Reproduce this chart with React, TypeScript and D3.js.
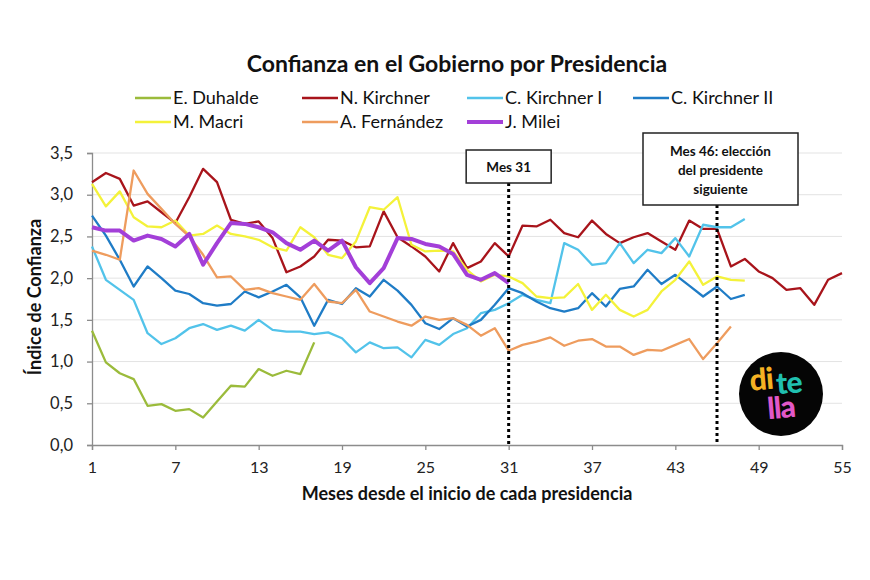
import React, { useRef, useEffect } from 'react';
import * as d3 from 'd3';

// Índice de confianza mensual por presidencia
const duhalde = [1.37, 0.99, 0.86, 0.79, 0.47, 0.49, 0.41, 0.43, 0.33, 0.52, 0.71, 0.70, 0.91, 0.83, 0.89, 0.85, 1.23];
const nKirchner = [3.15, 3.26, 3.19, 2.87, 2.92, 2.79, 2.66, 2.97, 3.31, 3.15, 2.70, 2.65, 2.68, 2.48, 2.07, 2.14, 2.26, 2.46, 2.45, 2.37,
  2.38, 2.80, 2.49, 2.38, 2.26, 2.08, 2.42, 2.12, 2.20, 2.42, 2.26, 2.63, 2.62, 2.70, 2.54, 2.49, 2.69, 2.53, 2.42, 2.49,
  2.54, 2.44, 2.34, 2.69, 2.59, 2.59, 2.14, 2.23, 2.08, 2.00, 1.86, 1.88, 1.68, 1.98, 2.06];
const cKirchnerI = [2.38, 1.98, 1.86, 1.74, 1.34, 1.21, 1.28, 1.40, 1.45, 1.38, 1.43, 1.37, 1.50, 1.38, 1.36, 1.36, 1.33, 1.35, 1.28, 1.11,
  1.23, 1.16, 1.17, 1.05, 1.26, 1.20, 1.33, 1.40, 1.58, 1.62, 1.70, 1.80, 1.74, 1.70, 2.42, 2.34, 2.16, 2.18, 2.42, 2.18,
  2.34, 2.30, 2.48, 2.26, 2.64, 2.61, 2.61, 2.71];
const cKirchnerII = [2.75, 2.51, 2.22, 1.90, 2.14, 2.00, 1.85, 1.81, 1.70, 1.67, 1.69, 1.84, 1.77, 1.84, 1.92, 1.77, 1.43, 1.74, 1.69, 1.88,
  1.78, 1.98, 1.85, 1.68, 1.46, 1.39, 1.52, 1.42, 1.50, 1.68, 1.88, 1.82, 1.72, 1.64, 1.60, 1.64, 1.82, 1.66, 1.87, 1.90,
  2.10, 1.93, 2.04, 1.91, 1.78, 1.90, 1.75, 1.80];
const macri = [3.13, 2.86, 3.04, 2.73, 2.62, 2.61, 2.69, 2.51, 2.53, 2.63, 2.53, 2.50, 2.46, 2.37, 2.33, 2.61, 2.49, 2.28, 2.24, 2.44,
  2.85, 2.82, 2.97, 2.40, 2.32, 2.33, 2.32, 2.10, 1.96, 2.04, 2.02, 1.94, 1.78, 1.76, 1.77, 1.93, 1.62, 1.80, 1.62, 1.54,
  1.62, 1.84, 1.98, 2.20, 1.92, 2.02, 1.98, 1.97];
const fernandez = [2.33, 2.28, 2.22, 3.29, 3.01, 2.83, 2.65, 2.50, 2.28, 2.01, 2.02, 1.86, 1.88, 1.82, 1.78, 1.74, 1.93, 1.72, 1.70, 1.86,
  1.60, 1.54, 1.48, 1.43, 1.54, 1.50, 1.52, 1.44, 1.31, 1.40, 1.13, 1.20, 1.24, 1.29, 1.19, 1.25, 1.27, 1.18, 1.18, 1.08,
  1.14, 1.13, 1.20, 1.27, 1.03, 1.22, 1.42];
const milei = [2.61, 2.57, 2.57, 2.45, 2.51, 2.47, 2.38, 2.53, 2.16, 2.42, 2.66, 2.65, 2.61, 2.55, 2.42, 2.34, 2.45, 2.33, 2.45, 2.13,
  1.94, 2.12, 2.48, 2.47, 2.41, 2.38, 2.29, 2.04, 1.98, 2.06, 1.94];

const seriesNames = ['E. Duhalde', 'N. Kirchner', 'C. Kirchner I', 'C. Kirchner II', 'M. Macri', 'A. Fernández', 'J. Milei'];
const seriesValues = [duhalde, nKirchner, cKirchnerI, cKirchnerII, macri, fernandez, milei];
const seriesColors = ['#9bbb3b', '#a8141b', '#52c3ea', '#1f7cc6', '#f4f23a', '#ee9c5e', '#a33fd8'];

const yTicks = [0, 0.5, 1, 1.5, 2, 2.5, 3, 3.5];
const xTicks = [1, 7, 13, 19, 25, 31, 37, 43, 49, 55];
const markers = [
  { month: 31, lines: ['Mes 31'] },
  { month: 46, lines: ['Mes 46: elección', 'del presidente', 'siguiente'] },
];

const FONT = 'Lato, "Open Sans", sans-serif';

const App = () => {
  const svgRef = useRef(null);

  useEffect(() => {
    const svg = d3.select(svgRef.current);
    svg.selectAll('*').remove();
    const width = 870;
    const height = 580;
    const margin = { top: 153, right: 28, bottom: 135, left: 92 };

    svg.attr('width', width).attr('height', height).attr('viewBox', [0, 0, width, height]);
    svg.append('rect').attr('width', width).attr('height', height).attr('fill', '#fff');

    const x = d3.scaleLinear().domain([1, 55]).range([margin.left, 842]);
    const y = d3.scaleLinear().domain([0, 3.5]).range([height - margin.bottom, margin.top]);
    const fmt = (v) => d3.format('.1f')(v).replace('.', ',');

    // grid
    svg.append('g')
      .selectAll('line')
      .data(yTicks.filter(d => d > 0))
      .join('line')
      .attr('x1', x(1)).attr('x2', x(55))
      .attr('y1', d => y(d)).attr('y2', d => y(d))
      .attr('stroke', '#e3e3e3').attr('stroke-width', 1);

    // y axis
    svg.append('g')
      .attr('transform', `translate(${x(1)},0)`)
      .call(d3.axisLeft(y).tickValues(yTicks).tickFormat(fmt).tickSize(5).tickPadding(14))
      .call(g => g.select('.domain').attr('stroke', '#8c8c8c').attr('stroke-width', 1.3))
      .call(g => g.selectAll('.tick line').attr('stroke', '#8c8c8c').attr('stroke-width', 1.3))
      .call(g => g.selectAll('text').attr('font-family', FONT).attr('font-size', 16.5).attr('fill', '#222'));

    // x axis
    svg.append('g')
      .attr('transform', `translate(0,${y(0)})`)
      .call(d3.axisBottom(x).tickValues(xTicks).tickFormat(d3.format('d')).tickSize(5).tickPadding(12))
      .call(g => g.select('.domain').attr('stroke', '#8c8c8c').attr('stroke-width', 1.3))
      .call(g => g.selectAll('.tick line').attr('stroke', '#8c8c8c').attr('stroke-width', 1.3))
      .call(g => g.selectAll('text').attr('font-family', FONT).attr('font-size', 16).attr('fill', '#222'));

    // lines
    const line = d3.line().x((d, i) => x(i + 1)).y(d => y(d));
    svg.append('g')
      .selectAll('path')
      .data(seriesValues)
      .join('path')
      .attr('d', d => line(d))
      .attr('fill', 'none')
      .attr('stroke', (d, i) => seriesColors[i])
      .attr('stroke-width', (d, i) => i === 6 ? 4 : 2.3)
      .attr('stroke-linejoin', 'round');

    // markers (dotted lines + boxes)
    const boxH = [33, 72];
    const boxW = [85, 155];
    const boxTop = [150, 133];
    markers.forEach((m, i) => {
      const cx = x(m.month);
      const bx = i === 0 ? cx - boxW[i] / 2 : cx - 74;
      svg.append('line')
        .attr('x1', cx).attr('x2', cx)
        .attr('y1', boxTop[i] + boxH[i]).attr('y2', y(0))
        .attr('stroke', '#000').attr('stroke-width', 3).attr('stroke-dasharray', '3,3');
      svg.append('rect')
        .attr('x', bx).attr('y', boxTop[i])
        .attr('width', boxW[i]).attr('height', boxH[i])
        .attr('fill', '#fff').attr('stroke', '#222').attr('stroke-width', 1.5);
      svg.append('text')
        .attr('font-family', FONT).attr('font-weight', 700).attr('font-size', 13.5)
        .attr('text-anchor', 'middle').attr('fill', '#111')
        .selectAll('tspan')
        .data(m.lines)
        .join('tspan')
        .attr('x', bx + boxW[i] / 2)
        .attr('y', (d, j) => boxTop[i] + (m.lines.length === 1 ? 21.5 : 23 + j * 19))
        .text(d => d);
    });

    // title
    svg.append('text')
      .attr('x', 457).attr('y', 72)
      .attr('text-anchor', 'middle')
      .attr('font-family', FONT).attr('font-weight', 700).attr('font-size', 23)
      .attr('fill', '#111')
      .text('Confianza en el Gobierno por Presidencia');

    // legend
    const colX = [135, 302, 467, 633];
    const rowY = [98, 122];
    const legend = svg.append('g')
      .selectAll('g')
      .data(seriesNames)
      .join('g')
      .attr('transform', (d, i) => `translate(${colX[i % 4]},${rowY[Math.floor(i / 4)]})`);
    legend.append('line')
      .attr('x1', 0).attr('x2', 36)
      .attr('stroke', (d, i) => seriesColors[i])
      .attr('stroke-width', (d, i) => i === 6 ? 4 : 2.5);
    legend.append('text')
      .attr('x', 38).attr('dy', '0.35em')
      .attr('font-family', FONT).attr('font-size', 18).attr('fill', '#111')
      .text(d => d);

    // axis titles
    svg.append('text')
      .attr('transform', `translate(41,${297}) rotate(-90)`)
      .attr('text-anchor', 'middle')
      .attr('font-family', FONT).attr('font-weight', 700).attr('font-size', 18)
      .attr('fill', '#111')
      .text('Índice de Confianza');
    svg.append('text')
      .attr('x', 467).attr('y', 500)
      .attr('text-anchor', 'middle')
      .attr('font-family', FONT).attr('font-weight', 700).attr('font-size', 18)
      .attr('fill', '#111')
      .text('Meses desde el inicio de cada presidencia');

    // logo
    const logo = svg.append('g').attr('transform', 'translate(781,394)');
    logo.append('circle').attr('r', 42).attr('fill', '#050505');
    const logoText = logo.append('g')
      .attr('font-family', FONT).attr('font-weight', 900).attr('font-size', 30)
      .attr('transform', 'rotate(-5)');
    logoText.append('text').attr('x', -30).attr('y', -6).attr('fill', '#f4b223').attr('letter-spacing', -1).text('di');
    logoText.append('text').attr('x', -4).attr('y', 0).attr('fill', '#20c0b0').attr('letter-spacing', -1).text('te');
    logoText.append('text').attr('x', -15).attr('y', 24).attr('fill', '#e258c8').attr('letter-spacing', -1).text('lla');
  }, []);

  return <svg ref={svgRef} style={{ position: 'absolute', left: 0, top: 0, display: 'block' }}></svg>;
};

export default App;
